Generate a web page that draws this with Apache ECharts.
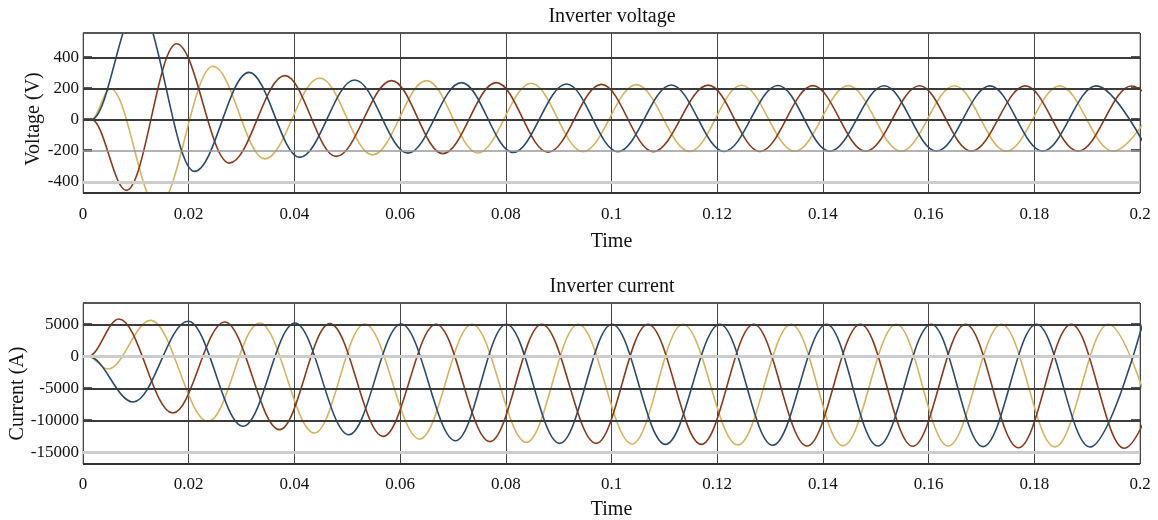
<!DOCTYPE html>
<html>
<head>
<meta charset="utf-8">
<title>Inverter voltage and current</title>
<script src="https://cdn.jsdelivr.net/npm/echarts@6/dist/echarts.min.js"></script>
<style>
  html, body { margin: 0; padding: 0; background: #fff; }
  #chart { width: 1158px; height: 520px; }
</style>
</head>
<body>
<div id="chart"></div>
<script>
// time axis (s)
const timeTicks = [0, 0.02, 0.04, 0.06, 0.08, 0.1, 0.12, 0.14, 0.16, 0.18, 0.2];
const timeTickLabels = ['0', '0.02', '0.04', '0.06', '0.08', '0.1', '0.12', '0.14', '0.16', '0.18', '0.2'];

// value axes
const voltageTicks = [-400, -200, 0, 200, 400];
const currentTicks = [-15000, -10000, -5000, 0, 5000];

// three phases, [time, value] at the start and at every peak / trough
const voltageBlue = [[0, 0], [0.0016, 0], [0.0104, 730], [0.0211, -333], [0.0314, 303], [0.0410, -243],
  [0.0514, 254], [0.0615, -216], [0.0716, 237], [0.0814, -211], [0.0915, 228], [0.1012, -207],
  [0.1113, 222], [0.1213, -205], [0.1315, 219], [0.1413, -204], [0.1516, 217], [0.1615, -203],
  [0.1716, 216], [0.1816, -203], [0.1917, 216], [0.2015, -203]];
const voltageBrown = [[0, 0], [0.0016, 0], [0.0082, -455], [0.0177, 487], [0.0277, -280], [0.0382, 282],
  [0.0479, -237], [0.0584, 250], [0.0681, -219], [0.0782, 237], [0.0880, -210], [0.0981, 226],
  [0.1079, -206], [0.1183, 221], [0.1281, -205], [0.1381, 218], [0.1481, -204], [0.1583, 217],
  [0.1681, -203], [0.1783, 216], [0.1883, -203], [0.1984, 215], [0.2083, -203]];
const voltageYellow = [[0, 0], [0.0016, 0], [0.0052, 198], [0.0141, -560], [0.0246, 342], [0.0344, -253],
  [0.0448, 267], [0.0548, -227], [0.0650, 250], [0.0747, -215], [0.0848, 233], [0.0946, -206],
  [0.1047, 224], [0.1148, -205], [0.1246, 220], [0.1347, -204], [0.1448, 218], [0.1548, -204],
  [0.1649, 217], [0.1747, -203], [0.1848, 216], [0.1949, -203], [0.2049, 215]];

const currentBlue = [[0, 0], [0.001, 0], [0.0095, -7100], [0.0199, 5470], [0.0303, -10890], [0.0401, 5200],
  [0.0503, -12200], [0.0602, 5050], [0.0705, -13130], [0.0801, 5000], [0.0902, -13540], [0.1001, 5000],
  [0.1102, -13700], [0.1205, 5000], [0.1305, -13850], [0.1407, 5000], [0.1504, -13960], [0.1605, 5000],
  [0.1703, -14050], [0.1804, 5000], [0.1905, -14110], [0.2005, 5000]];
const currentBrown = [[0, 0], [0.001, 0], [0.0068, 5830], [0.0170, -8820], [0.0268, 5360], [0.0372, -11410],
  [0.0467, 5100], [0.0568, -12450], [0.0668, 5000], [0.0770, -13280], [0.0868, 5000], [0.0971, -13540],
  [0.1069, 5000], [0.1170, -13700], [0.1269, 5000], [0.1370, -13960], [0.1471, 5000], [0.1570, -14000],
  [0.1670, 5000], [0.1770, -14220], [0.1870, 5000], [0.1970, -14300], [0.2070, 5000]];
const currentYellow = [[0, 0], [0.001, 0], [0.0047, -1960], [0.0128, 5620], [0.0237, -10110], [0.0334, 5200],
  [0.0438, -11930], [0.0533, 5050], [0.0637, -12870], [0.0736, 5000], [0.0839, -13380], [0.0937, 5000],
  [0.1039, -13640], [0.1135, 5000], [0.1239, -13800], [0.1340, 5000], [0.1438, -13900], [0.1539, 5000],
  [0.1637, -13960], [0.1738, 5000], [0.1839, -14100], [0.1940, 5000], [0.2039, -14150]];

const FONT = '"Liberation Serif", "Times New Roman", serif';
const blue = '#2a4a6c', brown = '#8a3a1c', yellow = '#d6b35e';

// axis extents of the two scope windows
const voltageRange = [-472, 556];
const currentRange = [-16760, 8320];

const chart = echarts.init(document.getElementById('chart'), null, { renderer: 'canvas' });

// horizontal grid lines: dark, mid grey or pale thick (like the scope)
const darkLine = { color: '#3c3c3c', width: 2 };
const midLine = { color: '#9a9a9a', width: 1.5 };
const paleLine = { color: '#cdcdcd', width: 3 };

function gridLines(ticks, styles, range, gi) {
  const items = ticks.map((v, i) => ({ yAxis: v, lineStyle: Object.assign({ type: 'solid' }, styles[i]) }));
  items.push({ yAxis: range[1], lineStyle: { type: 'solid', color: '#555', width: 2 } });
  items.push({ yAxis: range[0], lineStyle: { type: 'solid', color: '#333', width: 2 } });
  return {
    type: 'line', xAxisIndex: gi, yAxisIndex: gi * 2, data: [], z: 1, silent: true,
    markLine: { silent: true, animation: false, symbol: ['none', 'none'], label: { show: false },
      emphasis: { disabled: true }, data: items }
  };
}

function wave(name, data, color, gi) {
  return {
    name, type: 'line', xAxisIndex: gi, yAxisIndex: gi * 2, data,
    smooth: 0.36, smoothMonotone: 'x', showSymbol: false, symbol: 'none',
    lineStyle: { color, width: 1.6 }, z: 3, clip: true, silent: true
  };
}

function xAxis(gi) {
  return {
    type: 'value', gridIndex: gi, min: 0, max: 0.2, interval: 0.02,
    name: 'Time', nameLocation: 'middle', nameGap: gi === 0 ? 39 : 36, nameMoveOverlap: false,
    nameTextStyle: { fontFamily: FONT, fontSize: 20, color: '#111' },
    axisLine: { show: false }, axisTick: { show: false },
    axisLabel: { margin: gi === 0 ? 13 : 12, fontFamily: FONT, fontSize: 17, color: '#111',
      formatter: v => timeTickLabels[timeTicks.findIndex(t => Math.abs(t - v) < 1e-9)] },
    splitLine: { show: true, lineStyle: { color: '#444', width: 1 } }
  };
}

function yAxes(gi, name, ticks, range, gap, namePad) {
  const tick = { show: true, inside: true, length: 9, customValues: ticks, lineStyle: { color: '#555', width: 3 } };
  return [{
    type: 'value', gridIndex: gi, min: range[0], max: range[1],
    name, nameLocation: 'middle', nameGap: gap, nameMoveOverlap: false,
    nameTextStyle: { fontFamily: FONT, fontSize: 20, color: '#111', padding: [0, namePad, 0, 0] },
    axisLine: { show: false }, axisTick: tick,
    axisLabel: { margin: 4, fontFamily: FONT, fontSize: 17, color: '#111', customValues: ticks,
      formatter: v => String(v) },
    splitLine: { show: false }
  }, {
    type: 'value', gridIndex: gi, min: range[0], max: range[1], position: 'right',
    axisLine: { show: false }, axisTick: tick, axisLabel: { show: false }, splitLine: { show: false }
  }];
}

chart.setOption({
  animation: false,
  backgroundColor: '#fff',
  title: [
    { text: 'Inverter voltage', left: 612, top: 7, textAlign: 'center', padding: 0,
      textStyle: { fontFamily: FONT, fontSize: 20, fontWeight: 'normal', color: '#111' } },
    { text: 'Inverter current', left: 612, top: 277, textAlign: 'center', padding: 0,
      textStyle: { fontFamily: FONT, fontSize: 20, fontWeight: 'normal', color: '#111' } }
  ],
  grid: [
    { left: 83, right: 18, top: 33, height: 160, show: true, borderColor: '#8a8a8a', borderWidth: 1,
      containLabel: false, outerBoundsMode: 'none' },
    { left: 83, right: 18, top: 303, height: 161, show: true, borderColor: '#8a8a8a', borderWidth: 1,
      containLabel: false, outerBoundsMode: 'none' }
  ],
  xAxis: [xAxis(0), xAxis(1)],
  yAxis: [
    ...yAxes(0, 'Voltage (V)', voltageTicks, voltageRange, 39, 12),
    ...yAxes(1, 'Current (A)', currentTicks, currentRange, 55, 20)
  ],
  series: [
    gridLines(voltageTicks, [paleLine, midLine, darkLine, darkLine, darkLine], voltageRange, 0),
    gridLines(currentTicks, [paleLine, darkLine, darkLine, paleLine, darkLine], currentRange, 1),
    wave('Va', voltageYellow, yellow, 0),
    wave('Vb', voltageBrown, brown, 0),
    wave('Vc', voltageBlue, blue, 0),
    wave('Ia', currentYellow, yellow, 1),
    wave('Ib', currentBrown, brown, 1),
    wave('Ic', currentBlue, blue, 1)
  ]
});

window.addEventListener('resize', () => chart.resize());
</script>
</body>
</html>
